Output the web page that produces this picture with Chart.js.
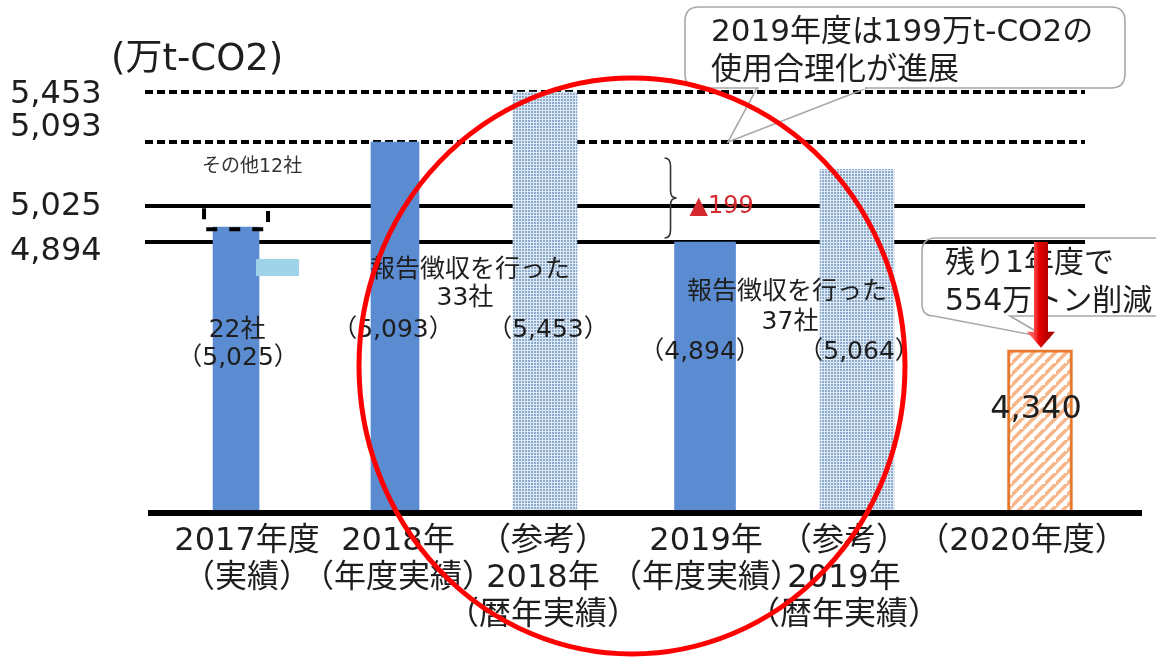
<!DOCTYPE html>
<html>
<head>
<meta charset="utf-8">
<script src="https://cdn.jsdelivr.net/npm/chart.js@4.4.1/dist/chart.umd.min.js"></script>
<style>
html,body{margin:0;padding:0;background:#fff;}
#wrap{width:1156px;height:657px;}
</style>
</head>
<body>
<div id="wrap"><canvas id="c" width="1156" height="657"></canvas></div>
<script>
// ---------------- data ----------------
const categories = [
  ['2017年度', '（実績）'],
  ['2018年', '（年度実績）'],
  ['（参考）', '2018年', '（暦年実績）'],
  ['2019年', '（年度実績）'],
  ['（参考）', '2019年', '（暦年実績）'],
  ['（2020年度）']
];
const fiscalYearTotals   = [5025, 5093, null, 4894, null, null];   // 年度実績
const otherCompanies2017 = 77;                                     // その他12社 (dashed part, estimated)
const calendarYearTotals = [null, null, 5453, null, 5064, null];   // 暦年実績（参考）
const target2020         = [null, null, null, null, null, 4340];   // 2020年度
const companyCounts      = [22, 33, 37];
const referenceLineValues = [5453, 5093, 5025, 4894];
const referenceLineDashed = [true, true, false, false];
const yTickValues        = [5453, 5093, 5025, 4894];

// ---------------- axis layout (as drawn in the original) ----------------
// broken (non-linear) value axis
const yBreakValues    = [3500, 4894, 5025, 5093, 5453, 5700];
const yBreakFractions = [0, 0.5982, 0.6777, 0.8190, 0.9294, 1];
const yTickLabelNudge = [3, -14, 1, 10];
// unevenly spaced categories
const xCenterFractions = [0.0881, 0.2547, 0.4119, 0.5797, 0.7390, 0.9308];
const xTickLabelNudge  = [11, 3, -2, 1, -13, -18];
// bar widths (px)
const barWidths = [46, 48, 64, 61, 74, 65];
const bracketWidth = 64;

// ---------------- styles ----------------
const FONT = '"DejaVu Sans", "Noto Sans CJK JP", sans-serif';
const TEXT = '#1e1e1e';
const BLUE = '#5b8bd0';
const ORANGE = '#e8782a';

function makeDotPattern() {
  const c = document.createElement('canvas'); c.width = 3; c.height = 3;
  const g = c.getContext('2d');
  g.fillStyle = '#dfe9f4'; g.fillRect(0, 0, 3, 3);
  g.fillStyle = '#8cabcc'; g.fillRect(0, 0, 2, 2);
  return g.createPattern(c, 'repeat');
}
function makeHatchPattern() {
  const s = 11;
  const c = document.createElement('canvas'); c.width = s; c.height = s;
  const g = c.getContext('2d');
  g.fillStyle = '#ffffff'; g.fillRect(0, 0, s, s);
  g.strokeStyle = '#f6b68a'; g.lineWidth = 3.6;
  g.beginPath();
  g.moveTo(-2, s + 2); g.lineTo(s + 2, -2);
  g.moveTo(-2 - s, s + 2); g.lineTo(2, -2);
  g.moveTo(s - 2, 2 * s + 2); g.lineTo(2 * s + 2, s - 2);
  g.stroke();
  return g.createPattern(c, 'repeat');
}
const dotPattern = makeDotPattern();
const hatchPattern = makeHatchPattern();

// ---------------- custom scales ----------------
function interp(v, A, B) {
  if (v <= A[0]) return B[0];
  for (let k = 1; k < A.length; k++) {
    if (v <= A[k]) return B[k - 1] + (v - A[k - 1]) / (A[k] - A[k - 1]) * (B[k] - B[k - 1]);
  }
  return B[B.length - 1];
}
class BrokenLinearScale extends Chart.LinearScale {
  getPixelForValue(value) {
    if (value === null || value === undefined || isNaN(value)) return NaN;
    return this.getPixelForDecimal(interp(value, yBreakValues, yBreakFractions));
  }
  getValueForPixel(pixel) {
    return interp(this.getDecimalForPixel(pixel), yBreakFractions, yBreakValues);
  }
  getPixelForTick(index) {
    const p = super.getPixelForTick(index);
    return p === null ? p : p + (yTickLabelNudge[index] || 0);
  }
}
BrokenLinearScale.id = 'brokenLinear';

class SpacedCategoryScale extends Chart.CategoryScale {
  getPixelForValue(value) {
    if (typeof value !== 'number') value = this.parse(value);
    if (value === null || value === undefined || isNaN(value)) return NaN;
    const idx = xCenterFractions.map((_, k) => k);
    return this.getPixelForDecimal(interp(value, idx, xCenterFractions));
  }
  getValueForPixel(pixel) {
    const idx = xCenterFractions.map((_, k) => k);
    return Math.round(interp(this.getDecimalForPixel(pixel), xCenterFractions, idx));
  }
  getPixelForTick(index) {
    const ticks = this.ticks;
    if (index < 0 || index > ticks.length - 1) return null;
    return this.getPixelForValue(ticks[index].value) + (xTickLabelNudge[index] || 0);
  }
}
SpacedCategoryScale.id = 'spacedCategory';
Chart.register(BrokenLinearScale, SpacedCategoryScale);

// ---------------- datasets ----------------
const onlyAt = (i, v) => categories.map((_, k) => (k === i ? v : null));
const datasets = [];
categories.forEach((_, i) => {
  const ds = { data: [], categoryPercentage: 1, barPercentage: 1, maxBarThickness: barWidths[i],
               grouped: false, borderWidth: 0, borderSkipped: false };
  if (fiscalYearTotals[i] !== null) {
    const v = i === 0 ? fiscalYearTotals[i] - otherCompanies2017 : fiscalYearTotals[i];
    ds.data = onlyAt(i, v); ds.backgroundColor = BLUE;
  } else if (calendarYearTotals[i] !== null) {
    ds.data = onlyAt(i, calendarYearTotals[i]); ds.backgroundColor = dotPattern;
  } else {
    ds.data = onlyAt(i, target2020[i]); ds.backgroundColor = hatchPattern;
    ds.borderColor = ORANGE; ds.borderWidth = 3;
  }
  datasets.push(ds);
});
const BRACKET_DS = datasets.length;
datasets.push({
  data: onlyAt(0, [fiscalYearTotals[0] - otherCompanies2017, fiscalYearTotals[0]]),
  backgroundColor: 'rgba(0,0,0,0)', categoryPercentage: 1, barPercentage: 1, maxBarThickness: bracketWidth,
  grouped: false, borderWidth: 0
});

// ---------------- helpers ----------------
const fmt = v => v.toLocaleString('en-US');
function txt(ctx, s, x, y, size, color, align) {
  ctx.font = size + 'px ' + FONT;
  ctx.fillStyle = color || TEXT;
  ctx.textAlign = align || 'center';
  ctx.textBaseline = 'middle';
  ctx.fillText(s, x, y);
}
function roundRect(ctx, x, y, w, h, r) {
  ctx.beginPath();
  ctx.moveTo(x + r, y);
  ctx.lineTo(x + w - r, y); ctx.quadraticCurveTo(x + w, y, x + w, y + r);
  ctx.lineTo(x + w, y + h - r); ctx.quadraticCurveTo(x + w, y + h, x + w - r, y + h);
  ctx.lineTo(x + r, y + h); ctx.quadraticCurveTo(x, y + h, x, y + h - r);
  ctx.lineTo(x, y + r); ctx.quadraticCurveTo(x, y, x + r, y);
  ctx.closePath();
}

const decor = {
  id: 'decor',
  beforeDatasetsDraw(chart) {
    const { ctx, chartArea: ca, scales: { y } } = chart;
    ctx.save();
    ctx.strokeStyle = '#000'; ctx.lineWidth = 4;
    referenceLineValues.forEach((v, k) => {
      const py = Math.round(y.getPixelForValue(v));
      ctx.setLineDash(referenceLineDashed[k] ? [8, 4] : []);
      ctx.beginPath(); ctx.moveTo(ca.left - 7, py); ctx.lineTo(ca.right - 21, py); ctx.stroke();
    });
    ctx.restore();
  },
  afterDatasetsDraw(chart) {
    const { ctx, chartArea: ca, scales: { y } } = chart;
    const bar = i => chart.getDatasetMeta(i).data[i];
    ctx.save();

    // baseline
    ctx.fillStyle = '#000';
    ctx.fillRect(ca.left - 4, ca.bottom - 3, ca.right + 36 - (ca.left - 4), 6);

    // dashed bracket (その他12社)
    const br = chart.getDatasetMeta(BRACKET_DS).data[0];
    ctx.setLineDash([11, 12]); ctx.lineWidth = 4; ctx.strokeStyle = '#000';
    ctx.strokeRect(br.x - br.width / 2, br.y, br.width, br.base - br.y + 2);
    ctx.setLineDash([]);
    txt(ctx, 'その他12社', br.x + 16, ca.top + 107, 19, '#333');

    // small light-blue mark
    const b0 = bar(0);
    ctx.fillStyle = '#9fd3ea';
    ctx.fillRect(b0.x + 20, ca.top + 199, 43, 17);

    // bar texts
    const b1 = bar(1), b2 = bar(2), b3 = bar(3), b4 = bar(4), b5 = bar(5);
    txt(ctx, companyCounts[0] + '社', b0.x + 1, ca.top + 270, 25);
    txt(ctx, '（' + fmt(fiscalYearTotals[0]) + '）', b0.x + 2, ca.top + 298, 25);
    txt(ctx, '報告徴収を行った', (b1.x + b2.x) / 2, ca.top + 210, 25);
    txt(ctx, companyCounts[1] + '社', (b1.x + b2.x) / 2 - 5, ca.top + 238, 25);
    txt(ctx, '（' + fmt(fiscalYearTotals[1]) + '）', b1.x - 2, ca.top + 270, 25);
    txt(ctx, '（' + fmt(calendarYearTotals[2]) + '）', b2.x + 3, ca.top + 270, 25);
    txt(ctx, '報告徴収を行った', (b3.x + b4.x) / 2 + 6, ca.top + 232, 25);
    txt(ctx, companyCounts[2] + '社', (b3.x + b4.x) / 2 + 9, ca.top + 262, 25);
    txt(ctx, '（' + fmt(fiscalYearTotals[3]) + '）', b3.x - 5, ca.top + 292, 25);
    txt(ctx, '（' + fmt(calendarYearTotals[4]) + '）', b4.x + 2, ca.top + 292, 25);
    txt(ctx, fmt(target2020[5]), b5.x - 4, ca.top + 350, 32);

    // brace and ▲199
    const top = y.getPixelForValue(fiscalYearTotals[1]) + 16;
    const bot = y.getPixelForValue(fiscalYearTotals[3]) - 4;
    const mid = (top + bot) / 2;
    const x0 = b3.x - b3.width / 2 - 10;
    ctx.strokeStyle = '#333'; ctx.lineWidth = 1.6;
    ctx.beginPath();
    ctx.moveTo(x0, top);
    ctx.quadraticCurveTo(x0 + 6, top, x0 + 6, top + 8);
    ctx.lineTo(x0 + 6, mid - 7);
    ctx.quadraticCurveTo(x0 + 6, mid, x0 + 12, mid);
    ctx.quadraticCurveTo(x0 + 6, mid, x0 + 6, mid + 7);
    ctx.lineTo(x0 + 6, bot - 8);
    ctx.quadraticCurveTo(x0 + 6, bot, x0, bot);
    ctx.stroke();
    const reduction = fiscalYearTotals[1] - fiscalYearTotals[3];
    txt(ctx, '▲' + reduction, x0 + 25, mid + 9, 24, '#d42a2f', 'left');

    // callout 1
    ctx.strokeStyle = '#a8a8a8'; ctx.lineWidth = 1.6;
    ctx.fillStyle = '#fff';
    roundRect(ctx, 685, 7, 440, 81, 14);
    ctx.fill(); ctx.stroke();
    const tipY = y.getPixelForValue(fiscalYearTotals[1]);
    ctx.beginPath();
    ctx.moveTo(757, 88); ctx.lineTo(728, tipY); ctx.lineTo(867, 88);
    ctx.stroke();
    ctx.strokeStyle = '#fff'; ctx.lineWidth = 2.5;
    ctx.beginPath(); ctx.moveTo(759, 88); ctx.lineTo(865, 88); ctx.stroke();
    txt(ctx, '2019年度は' + reduction + '万t-CO2の', 711, 33, 31, TEXT, 'left');
    txt(ctx, '使用合理化が進展', 711, 71, 31, TEXT, 'left');

    // callout 2
    ctx.strokeStyle = '#a8a8a8'; ctx.lineWidth = 1.6;
    const tip2 = y.getPixelForValue(target2020[5]) - 8;
    ctx.beginPath();
    ctx.moveTo(1185, 238); ctx.lineTo(936, 238);
    ctx.quadraticCurveTo(922, 238, 922, 252);
    ctx.lineTo(922, 304);
    ctx.quadraticCurveTo(922, 316, 934, 316);
    ctx.lineTo(b5.x + 7, tip2 - 4);
    ctx.lineTo(1010, 316);
    ctx.lineTo(1185, 316);
    ctx.stroke();
    txt(ctx, '残り1年度で', 945, 264, 30, TEXT, 'left');
    txt(ctx, (fiscalYearTotals[3] - target2020[5]) + '万トン削減', 945, 302, 30, TEXT, 'left');

    // red arrow from 2019 actual down to 2020 target
    const ax = b5.x + 1;
    const ay0 = y.getPixelForValue(fiscalYearTotals[3]);
    const ay1 = y.getPixelForValue(target2020[5]) - 2;
    const grad = ctx.createLinearGradient(ax - 8, 0, ax + 8, 0);
    grad.addColorStop(0, '#ff5a5a'); grad.addColorStop(0.4, '#e60000'); grad.addColorStop(1, '#b00000');
    ctx.fillStyle = grad;
    ctx.beginPath();
    ctx.moveTo(ax - 7, ay0); ctx.lineTo(ax + 7, ay0);
    ctx.lineTo(ax + 7, ay1 - 16); ctx.lineTo(ax + 14, ay1 - 16);
    ctx.lineTo(ax, ay1); ctx.lineTo(ax - 14, ay1 - 16);
    ctx.lineTo(ax - 7, ay1 - 16); ctx.closePath();
    ctx.fill();

    ctx.restore();
  },
  afterDraw(chart) {
    const { ctx, chartArea: ca } = chart;
    ctx.save();
    txt(ctx, '(万t-CO2)', 111, 60, 37, TEXT, 'left');
    ctx.strokeStyle = '#ff0000'; ctx.lineWidth = 5;
    ctx.beginPath();
    ctx.ellipse(ca.left + 480, ca.top + 306, 273, 288, 0, 0, Math.PI * 2);
    ctx.stroke();
    ctx.restore();
  }
};

new Chart(document.getElementById('c'), {
  type: 'bar',
  data: { labels: categories, datasets },
  options: {
    responsive: false,
    animation: false,
    layout: { padding: { left: 10, right: 50, top: 60, bottom: 0 } },
    plugins: { legend: { display: false }, tooltip: { enabled: false } },
    scales: {
      x: {
        type: 'spacedCategory',
        grid: { display: false, drawTicks: false },
        border: { display: false },
        afterFit: s => { s.height = 144; },
        ticks: { autoSkip: false, maxRotation: 0, minRotation: 0, padding: 10, color: TEXT,
                 font: { family: FONT, size: 32, lineHeight: 1.16 } }
      },
      y: {
        type: 'brokenLinear',
        min: yBreakValues[0], max: yBreakValues[yBreakValues.length - 1],
        grid: { display: false, drawTicks: false },
        border: { display: false },
        afterBuildTicks: s => { s.ticks = yTickValues.map(v => ({ value: v })); },
        afterFit: s => { s.width = 142; },
        ticks: { autoSkip: false, crossAlign: 'far', padding: 0, color: TEXT,
                 font: { family: FONT, size: 32 }, callback: v => fmt(v) }
      }
    }
  },
  plugins: [decor]
});
</script>
</body>
</html>
